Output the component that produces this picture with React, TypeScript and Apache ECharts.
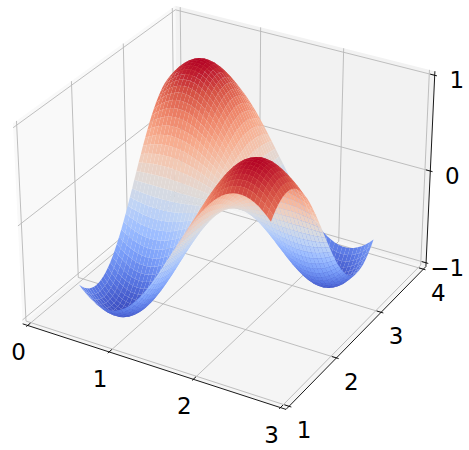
import React, { useEffect, useRef } from "react";
import * as echarts from "echarts";

const xTicks = [0, 1, 2, 3];
const yTicks = [1, 2, 3, 4];
const zTicks = [-1, 0, 1];
const coolwarm = ["#3b4cc0","#5977e3","#7b9ff9","#9ebeff","#c0d4f5","#dddcdc","#f2cbb7","#f7ac8e","#ee8468","#d65244","#b40426"];

// Surface sample positions along x and y.
const xSamples = [0.45,0.496,0.542,0.588,0.634,0.68,0.726,0.771,0.817,0.863,0.909,0.955,1.001,1.047,1.093,1.139,1.185,1.231,1.277,1.322,1.368,1.414,1.46,1.506,1.552,1.598,1.644,1.69,1.736,1.782,1.828,1.873,1.919,1.965,2.011,2.057,2.103,2.149,2.195,2.241,2.287,2.333,2.379,2.424,2.47,2.516,2.562,2.608,2.654,2.7];
const ySamples = [1.25,1.296,1.342,1.388,1.434,1.48,1.526,1.571,1.617,1.663,1.709,1.755,1.801,1.847,1.893,1.939,1.985,2.031,2.077,2.122,2.168,2.214,2.26,2.306,2.352,2.398,2.444,2.49,2.536,2.582,2.628,2.673,2.719,2.765,2.811,2.857,2.903,2.949,2.995,3.041,3.087,3.133,3.179,3.224,3.27,3.316,3.362,3.408,3.454,3.5];
// Estimated height profiles; a cell's height is xProfile[i] * yProfile[j] (a simplification of the surface).
const xProfile = [0.7833,0.8371,0.8838,0.9229,0.9543,0.9777,0.9928,0.9996,0.998,0.9879,0.9695,0.9429,0.9085,0.8663,0.8169,0.7604,0.6976,0.629,0.5551,0.4765,0.3939,0.3079,0.2194,0.129,0.0375,-0.0543,-0.1457,-0.2358,-0.3239,-0.4093,-0.4912,-0.5691,-0.6421,-0.7097,-0.7714,-0.8265,-0.8746,-0.9153,-0.9484,-0.9735,-0.9904,-0.9989,-0.999,-0.9907,-0.974,-0.9491,-0.9162,-0.8755,-0.8277,-0.7727];
const yProfile = [-0.8011,-0.8526,-0.8969,-0.9337,-0.9626,-0.9834,-0.9959,-1,-0.9957,-0.9829,-0.962,-0.9328,-0.8959,-0.8514,-0.7997,-0.7413,-0.6768,-0.6061,-0.5306,-0.4506,-0.3668,-0.28,-0.1908,-0.1,-0.0083,0.0834,0.1745,0.264,0.3514,0.4358,0.5164,0.5929,0.6641,0.73,0.7896,0.8425,0.8884,0.9267,0.9573,0.9798,0.994,0.9998,0.9973,0.9863,0.967,0.9396,0.9042,0.8612,0.811,0.7539];

const xLim = [-0.0625, 3.0625], yLim = [0.9375, 4.0625], zLim = [-1.0417, 1.0417];
const BW = 1.1905, BZ = 0.906, CX = 228, CY = 198, SX = 2535, SY = 2520;

function cam(x: number, y: number, z: number) {
  const X = ((x - xLim[0]) / (xLim[1] - xLim[0]) - 0.5) * BW;
  const Y = ((y - yLim[0]) / (yLim[1] - yLim[0]) - 0.5) * BW;
  const Z = ((z - zLim[0]) / (zLim[1] - zLim[0]) - 0.5) * BZ;
  return [0.866025 * X + 0.5 * Y, -0.25 * X + 0.433013 * Y + 0.866025 * Z, 0.433013 * X - 0.75 * Y + 0.5 * Z];
}
function project(x: number, y: number, z: number): [number, number] {
  const [a, b, c] = cam(x, y, z);
  const d = 10 - c;
  return [CX + SX * a / d, CY - SY * b / d];
}
function cmap(t: number) {
  return echarts.color.lerp(Math.max(0, Math.min(1, t)), coolwarm) as string;
}

type Cell = { pts: number[][]; fill: string; depth: number };
const cells: Cell[] = [];
for (let i = 0; i < xSamples.length - 1; i++) for (let j = 0; j < ySamples.length - 1; j++) {
  const c = [[i, j], [i + 1, j], [i + 1, j + 1], [i, j + 1]].map(([a, b]) => [xSamples[a], ySamples[b], xProfile[a] * yProfile[b]]);
  const zAvg = c.reduce((s, p) => s + p[2], 0) / 4;
  const depth = c.reduce((s, p) => s + cam(p[0], p[1], p[2])[2], 0) / 4;
  cells.push({ pts: c.map((p) => project(p[0], p[1], p[2])), fill: cmap((zAvg + 1) / 2), depth });
}
cells.sort((a, b) => a.depth - b.depth);

const [x0, x1] = xLim, [y0, y1] = yLim, [z0, z1] = zLim;
const panes = [
  { pts: [[x0, y0, z0], [x0, y1, z0], [x0, y1, z1], [x0, y0, z1]], fill: "#f9f9f9" },
  { pts: [[x0, y1, z0], [x1, y1, z0], [x1, y1, z1], [x0, y1, z1]], fill: "#f2f2f2" },
  { pts: [[x0, y0, z0], [x1, y0, z0], [x1, y1, z0], [x0, y1, z0]], fill: "#f5f5f5" },
];
const grids: number[][][] = [
  ...xTicks.map((x) => [[x, y0, z0], [x, y1, z0], [x, y1, z1]]),
  ...yTicks.map((y) => [[x1, y, z0], [x0, y, z0], [x0, y, z1]]),
  ...zTicks.map((z) => [[x0, y0, z], [x0, y1, z], [x1, y1, z]]),
];
const axes: number[][][] = [
  [[x0, y0, z0], [x1, y0, z0]],
  [[x1, y0, z0], [x1, y1, z0]],
  [[x1, y1, z0], [x1, y1, z1]],
];
const dY = (y1 - y0) / 12, dX = (x1 - x0) / 12;
const ticks: number[][][] = [
  ...xTicks.map((x) => [[x, y0 - 0.1 * dY, z0], [x, y0 + 0.2 * dY, z0]]),
  ...yTicks.map((y) => [[x1 + 0.1 * dX, y, z0], [x1 - 0.2 * dX, y, z0]]),
  ...zTicks.map((z) => [[x1 + 0.1 * dX, y1, z], [x1 - 0.2 * dX, y1, z]]),
];
const labels = [
  ...xTicks.map((x) => ({ t: String(x), p: project(x, y0, z0), o: [-9, 27] })),
  ...yTicks.map((y) => ({ t: String(y), p: project(x1, y, z0), o: [15, 24] })),
  ...zTicks.map((z) => ({ t: z < 0 ? "\u2212" + Math.abs(z) : String(z), p: project(x1, y1, z), o: [z < 0 ? 21 : 22, 5] })),
];

function poly(points: number[][], fill: string) {
  return { type: "polygon", shape: { points }, style: { fill, stroke: "none" }, silent: true };
}
function line(pts: number[][], stroke: string, lw: number) {
  return { type: "polyline", shape: { points: pts.map((p) => project(p[0], p[1], p[2])) }, style: { fill: "none", stroke, lineWidth: lw }, silent: true };
}
function custom(data: any[], item: (d: any) => any) {
  return {
    type: "custom", coordinateSystem: "none", silent: true, animation: false, progressive: 0, clip: false,
    data: data.map((_, i) => [i]),
    renderItem: (p: any) => item(data[p.dataIndex]),
  };
}

export default function App() {
  const ref = useRef<HTMLDivElement>(null);
  useEffect(() => {
    const chart = echarts.init(ref.current!, undefined, { renderer: "svg" });
    chart.setOption({
      animation: false,
      backgroundColor: "#fff",
      series: [
        custom(panes, (d) => poly(d.pts.map((p: number[]) => project(p[0], p[1], p[2])), d.fill)),
        custom(grids, (d) => line(d, "#b8b8b8", 0.9)),
        custom(axes, (d) => line(d, "#000", 0.9)),
        custom(ticks, (d) => line(d, "#000", 0.9)),
        custom(cells, (d) => poly(d.pts, d.fill)),
        custom(labels, (d) => ({
          type: "text", silent: true,
          style: { x: d.p[0] + d.o[0], y: d.p[1] + d.o[1], text: d.t, fontFamily: "DejaVu Sans", fontSize: 23, fill: "#000", align: "center", verticalAlign: "middle" },
        })),
      ],
    });
    return () => chart.dispose();
  }, []);
  return <div ref={ref} style={{ position: "fixed", left: 0, top: 0, width: 469, height: 450 }} />;
}
